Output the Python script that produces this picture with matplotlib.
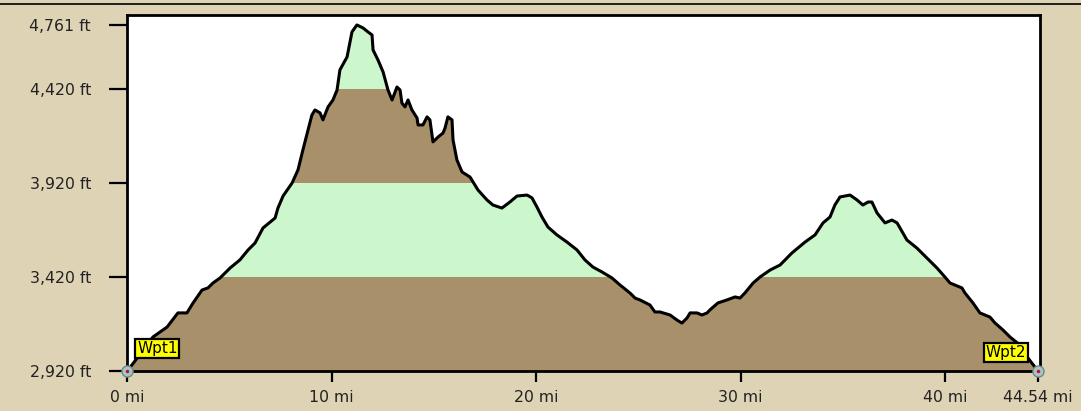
import numpy as np
import matplotlib
matplotlib.use("Agg")
import matplotlib.pyplot as plt
from matplotlib.lines import Line2D

# ---- data ----
distance_mi = [0.00, 0.24, 1.27, 1.96, 2.49, 2.93, 3.23, 3.67, 3.96, 4.20, 4.55, 5.04, 5.52, 5.92,
               6.26, 6.65, 7.24, 7.38, 7.63, 8.07, 8.36, 8.60, 8.85, 9.04, 9.19, 9.44, 9.58, 9.83,
               10.07, 10.27, 10.41, 10.76, 11.00, 11.24, 11.54, 11.78, 11.98, 12.03, 12.27, 12.52,
               12.76, 12.96, 13.20, 13.35, 13.44, 13.59, 13.74, 13.93, 14.18, 14.23, 14.47, 14.67,
               14.81, 14.96, 15.21, 15.45, 15.55, 15.69, 15.89, 15.94, 16.13, 16.38, 16.77, 17.16,
               17.60, 17.89, 18.33, 18.72, 19.07, 19.56, 19.80, 20.04, 20.29, 20.58, 21.02, 21.51,
               22.00, 22.39, 22.78, 23.22, 23.71, 24.10, 24.59, 24.84, 25.08, 25.57, 25.81, 26.06,
               26.55, 26.89, 27.13, 27.38, 27.53, 27.87, 28.11, 28.36, 28.50, 28.89, 29.33, 29.73,
               29.97, 30.21, 30.61, 30.95, 31.44, 31.93, 32.51, 33.15, 33.64, 34.03, 34.37, 34.61,
               34.86, 35.35, 35.69, 35.98, 36.23, 36.42, 36.67, 37.06, 37.40, 37.65, 38.13, 38.62,
               39.11, 39.60, 39.99, 40.24, 40.82, 40.97, 41.36, 41.70, 42.19, 42.44, 42.83, 43.17,
               43.66, 44.05, 44.54]
elevation_ft = [2920, 2952, 3101, 3154, 3229, 3229, 3282, 3351, 3362, 3388, 3415, 3468, 3511, 3564,
                3601, 3681, 3734, 3787, 3851, 3920, 3990, 4096, 4202, 4282, 4309, 4293, 4256, 4325,
                4362, 4415, 4522, 4591, 4724, 4761, 4745, 4724, 4708, 4628, 4575, 4511,
                4415, 4362, 4431, 4415, 4346, 4325, 4362, 4309, 4266, 4229, 4229, 4272,
                4256, 4139, 4165, 4186, 4213, 4272, 4256, 4149, 4043, 3979, 3952, 3883,
                3830, 3803, 3787, 3819, 3851, 3856, 3841, 3793, 3739, 3686, 3644, 3606,
                3564, 3511, 3473, 3447, 3415, 3378, 3335, 3308, 3298, 3271, 3234, 3234,
                3218, 3191, 3175, 3202, 3229, 3229, 3218, 3229, 3245, 3282, 3298, 3314,
                3308, 3335, 3388, 3420, 3457, 3484, 3548, 3606, 3644, 3708, 3739, 3803,
                3846, 3856, 3830, 3803, 3819, 3819, 3761, 3708, 3723, 3708, 3617, 3574,
                3521, 3468, 3420, 3388, 3362, 3335, 3282, 3229, 3207, 3175, 3138, 3101,
                3058, 2989, 2920]

y_ticks = [2920, 3420, 3920, 4420, 4761]
y_tick_labels = ["2,920 ft", "3,420 ft", "3,920 ft", "4,420 ft", "4,761 ft"]
x_ticks = [0, 10, 20, 30, 40, 44.54]
x_tick_labels = ["0 mi", "10 mi", "20 mi", "30 mi", "40 mi", "44.54 mi"]
band_edges = [2920, 3420, 3920, 4420, 4761]
waypoint_names = ["Wpt1", "Wpt2"]
waypoint_mi = [0.0, 44.54]
waypoint_ft = [2920, 2920]

# ---- style ----
BG = "#ded3b4"
BROWN = "#a8916a"
GREEN = "#ccf6cc"
TXT = "#222222"

W, H = 1081, 411
fig = plt.figure(figsize=(W / 100, H / 100), dpi=100, facecolor=BG)
ax = fig.add_axes([127 / W, 1 - 371 / H, (1040 - 127) / W, (371 - 15) / H])
ax.set_facecolor("white")

x = np.array(distance_mi)
y = np.array(elevation_ft)
ytop = 4814
ax.set_xlim(0, 44.54 * 913 / 911)
ax.set_ylim(2920, ytop)

band_colors = [BROWN, GREEN, BROWN, GREEN]
xmax = 44.54
for i, c in enumerate(band_colors):
    hi = band_edges[i + 1] if i + 1 < len(band_edges) - 1 else ytop
    ax.fill_between([0, xmax], band_edges[i], hi, color=c, lw=0, zorder=1)
ax.fill_between(x, y, ytop, color="white", lw=0, zorder=2)
ax.plot(x, y, color="black", lw=2.2, zorder=3, solid_joinstyle="round")

for s in ax.spines.values():
    s.set_linewidth(2)
    s.set_color("black")
    s.set_zorder(5)

ax.set_yticks(y_ticks)
ax.set_yticklabels(y_tick_labels)
ax.set_xticks(x_ticks)
ax.set_xticklabels(x_tick_labels)
ax.tick_params(axis="y", direction="out", length=13, width=1.6, pad=13,
               labelsize=11.3, labelcolor=TXT)
ax.tick_params(axis="x", direction="out", length=8, width=1.6, pad=6,
               labelsize=11.3, labelcolor=TXT)

# waypoint markers
ax.plot(waypoint_mi, waypoint_ft, "o", ms=8, mfc="#a9c4c4", mec="#6c8a8a",
        mew=1, zorder=7, clip_on=False)
ax.plot(waypoint_mi, waypoint_ft, "o", ms=2.5, mfc="#c0102a", mec="none",
        zorder=8, clip_on=False)

offsets = [(10, 15, "left"), (-12, 11, "right")]
for name, wx, wy, (dx, dy, ha) in zip(waypoint_names, waypoint_mi, waypoint_ft, offsets):
    ax.annotate(name, (wx, wy), xytext=(dx * 0.72, dy * 0.72), textcoords="offset points",
                ha=ha, va="bottom", fontsize=11, color="black", zorder=9,
                bbox=dict(boxstyle="square,pad=0.1", fc="#ffff00", ec="black", lw=1.6),
                annotation_clip=False)

# top dark rule
fig.add_artist(Line2D([0, 1], [1 - 4.5 / H, 1 - 4.5 / H], transform=fig.transFigure,
                      color="black", lw=1.2))

fig.savefig("out.png", dpi=100, facecolor=BG)
